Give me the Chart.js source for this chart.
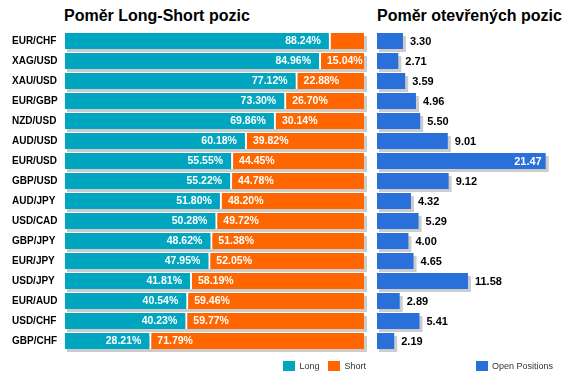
<!DOCTYPE html>
<html>
<head>
<meta charset="utf-8">
<script src="https://cdn.jsdelivr.net/npm/chart.js@4.4.1/dist/chart.umd.min.js"></script>
<style>
  html, body { margin:0; padding:0; background:#fff; }
  body { width:572px; height:382px; position:relative; overflow:hidden; font-family:"Liberation Sans", Arial, sans-serif; }
  .wrap { position:absolute; top:0; height:382px; }
  .title { position:absolute; top:8px; font:bold 16px/16px "Liberation Sans", Arial, sans-serif; color:#000; white-space:nowrap; }
  .legend { position:absolute; top:361px; display:flex; align-items:center; height:10px; font:9px/10px "Liberation Sans Narrow", "Arial Narrow", "Liberation Sans", sans-serif; color:#333; white-space:nowrap; }
  .legend .item { display:flex; align-items:center; margin-left:9px; }
  .legend .box { width:12px; height:10px; margin-right:4px; }
</style>
</head>
<body>
<div class="title" style="left:64px">Poměr Long-Short pozic</div>
<div class="title" style="left:377px">Poměr otevřených pozic</div>
<div class="wrap" style="left:0;width:370px"><canvas id="ls" width="370" height="382"></canvas></div>
<div class="wrap" style="left:370px;width:202px"><canvas id="op" width="202" height="382"></canvas></div>
<div class="legend" id="legLS" style="right:206px"></div>
<div class="legend" id="legOP" style="right:19px"></div>
<script>
const categories = ['EUR/CHF','XAG/USD','XAU/USD','EUR/GBP','NZD/USD','AUD/USD','EUR/USD','GBP/USD','AUD/JPY','USD/CAD','GBP/JPY','EUR/JPY','USD/JPY','EUR/AUD','USD/CHF','GBP/CHF'];
const longPct  = [88.24,84.96,77.12,73.30,69.86,60.18,55.55,55.22,51.80,50.28,48.62,47.95,41.81,40.54,40.23,28.21];
const shortPct = [11.76,15.04,22.88,26.70,30.14,39.82,44.45,44.78,48.20,49.72,51.38,52.05,58.19,59.46,59.77,71.79];
const openPositions = [3.30,2.71,3.59,4.96,5.50,9.01,21.47,9.12,4.32,5.29,4.00,4.65,11.58,2.89,5.41,2.19];

const TEAL = '#00A6C0', ORANGE = '#FF6600', BLUE = '#2970DA', SHADOW = '#CCCCCC';
const FONT = '"Liberation Sans", Arial, sans-serif';

// gray drop shadow behind each row of bars
const shadowPlugin = {
  id: 'rowShadow',
  beforeDatasetsDraw(chart) {
    const ctx = chart.ctx;
    const metas = chart.data.datasets.map((d, i) => chart.getDatasetMeta(i));
    ctx.save();
    ctx.fillStyle = SHADOW;
    chart.data.labels.forEach((_, idx) => {
      let left = Infinity, right = -Infinity, top = 0, h = 0;
      metas.forEach(m => {
        const el = m.data[idx];
        if (!el) return;
        left = Math.min(left, el.base, el.x);
        right = Math.max(right, el.base, el.x);
        top = el.y - el.height / 2; h = el.height;
      });
      ctx.fillRect(left + 2, top + 3, right - left + 1, h);
    });
    ctx.restore();
  }
};

const lsLabels = {
  id: 'lsLabels',
  afterDatasetsDraw(chart) {
    const ctx = chart.ctx;
    ctx.save();
    ctx.font = 'bold 10.5px ' + FONT;
    ctx.fillStyle = '#fff';
    ctx.textBaseline = 'middle';
    const mL = chart.getDatasetMeta(0), mS = chart.getDatasetMeta(1);
    longPct.forEach((v, i) => {
      const el = mL.data[i];
      const t = v.toFixed(2) + '%';
      ctx.textAlign = 'right';
      ctx.fillText(t, el.x - 8, el.y + 0.5);
    });
    shortPct.forEach((v, i) => {
      const el = mS.data[i];
      const t = v.toFixed(2) + '%';
      const w = ctx.measureText(t).width;
      if (el.base + 8 + w > el.x + 2) return;
      ctx.textAlign = 'left';
      ctx.fillText(t, el.base + 8, el.y + 0.5);
    });
    ctx.restore();
  }
};

const opLabels = {
  id: 'opLabels',
  afterDatasetsDraw(chart) {
    const ctx = chart.ctx;
    ctx.save();
    ctx.font = 'bold 11px ' + FONT;
    ctx.textBaseline = 'middle';
    const m = chart.getDatasetMeta(0);
    openPositions.forEach((v, i) => {
      const el = m.data[i];
      const t = v.toFixed(2);
      const w = ctx.measureText(t).width;
      if (el.x + 7 + w > chart.width) {
        ctx.fillStyle = '#fff';
        ctx.textAlign = 'right';
        ctx.fillText(t, el.x - 4, el.y + 0.5);
      } else {
        ctx.fillStyle = '#000';
        ctx.textAlign = 'left';
        ctx.fillText(t, el.x + 7, el.y + 0.5);
      }
    });
    ctx.restore();
  }
};

Chart.defaults.animation = false;
Chart.defaults.font.family = FONT;

const lsChart = new Chart(document.getElementById('ls'), {
  type: 'bar',
  data: {
    labels: categories,
    datasets: [
      { label: 'Long', data: longPct, backgroundColor: TEAL, borderWidth: 0 },
      { label: 'Short', data: shortPct, backgroundColor: ORANGE, borderColor: '#fff',
        borderWidth: { left: 2, right: 0, top: 0, bottom: 0 }, borderSkipped: false }
    ]
  },
  options: {
    indexAxis: 'y',
    responsive: false,
    maintainAspectRatio: false,
    categoryPercentage: 1,
    barPercentage: 0.8,
    layout: { padding: { left: 12, right: 6, top: 31, bottom: 31 } },
    plugins: { legend: { display: false }, tooltip: { enabled: false }, title: { display: false } },
    scales: {
      x: { stacked: true, min: 0, max: 100, display: false },
      y: {
        stacked: true,
        grid: { display: false }, border: { display: false },
        ticks: { crossAlign: 'far', color: '#000', font: { size: 10, weight: 'bold', family: FONT }, padding: 0 },
        afterFit(scale) { scale.width = 53; }
      }
    }
  },
  plugins: [shadowPlugin, lsLabels]
});

const opChart = new Chart(document.getElementById('op'), {
  type: 'bar',
  data: {
    labels: categories,
    datasets: [
      { label: 'Open Positions', data: openPositions, backgroundColor: BLUE, borderWidth: 0 }
    ]
  },
  options: {
    indexAxis: 'y',
    responsive: false,
    maintainAspectRatio: false,
    categoryPercentage: 1,
    barPercentage: 0.8,
    layout: { padding: { left: 7, right: 19, top: 31, bottom: 31 } },
    plugins: { legend: { display: false }, tooltip: { enabled: false } },
    scales: {
      x: { min: 0, max: 22.4, display: false },
      y: { display: false }
    }
  },
  plugins: [shadowPlugin, opLabels]
});

function buildLegend(chart, id) {
  const el = document.getElementById(id);
  chart.data.datasets.forEach(ds => {
    const item = document.createElement('div');
    item.className = 'item';
    const box = document.createElement('span');
    box.className = 'box';
    box.style.background = ds.backgroundColor;
    const txt = document.createElement('span');
    txt.textContent = ds.label;
    item.appendChild(box); item.appendChild(txt);
    el.appendChild(item);
  });
}
buildLegend(lsChart, 'legLS');
buildLegend(opChart, 'legOP');
</script>
</body>
</html>
